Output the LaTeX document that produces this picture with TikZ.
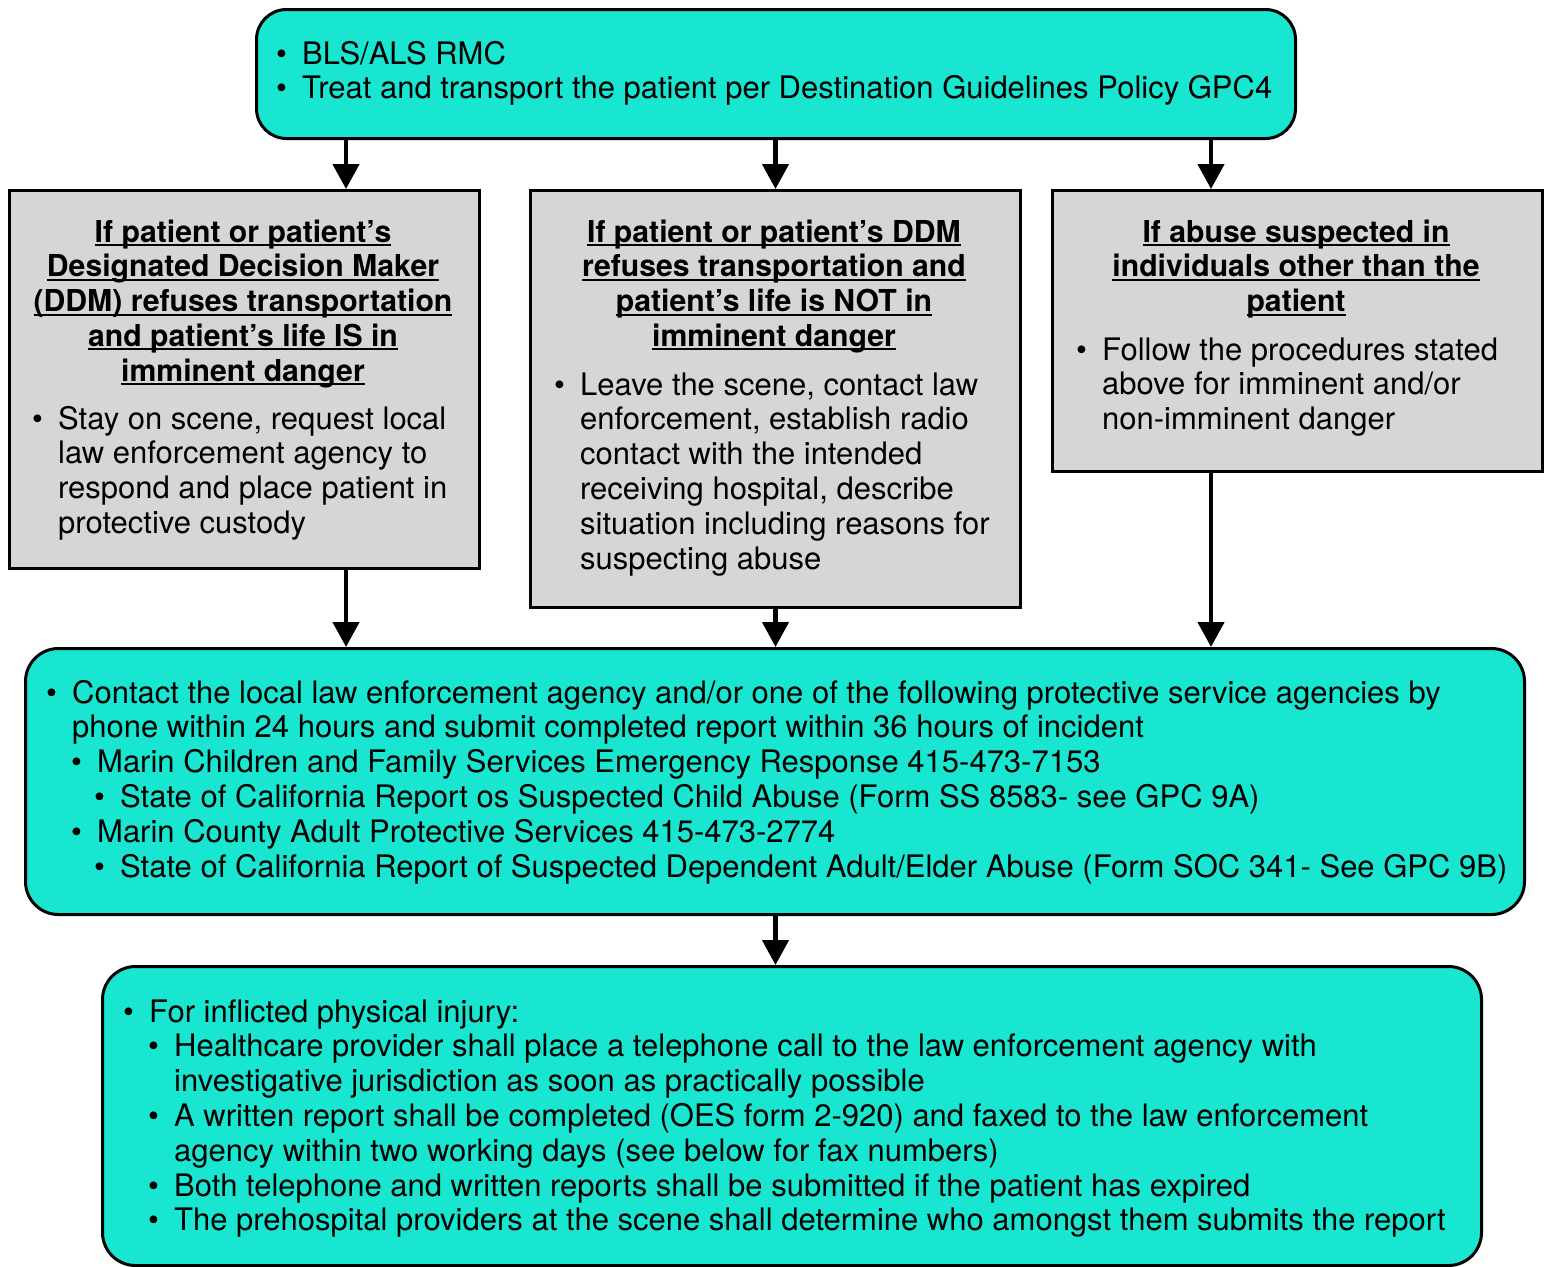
\documentclass[tikz,border=0pt]{standalone}
\usepackage{fontspec}
\setmainfont{TeX Gyre Heros}
\usetikzlibrary{arrows.meta}

\definecolor{tealfill}{RGB}{24,230,208}
\definecolor{greyfill}{RGB}{214,214,214}

% body and heading sizes, both with a 34.8pt line pitch
\newcommand\bodyfont{\fontsize{31}{34.8}\selectfont}
\newcommand\headfont{\fontsize{30.2}{34.8}\selectfont\bfseries}
% bullet with hanging indent, and the matching indent for continued lines
\newcommand\bpt{\makebox[26pt][l]{•}}
\newcommand\bind{\hspace*{26pt}}
% underline drawn just below the baseline
\newsavebox\ulbox
\newcommand\ulx[1]{\sbox\ulbox{#1}\rlap{\rule[-4pt]{\wd\ulbox}{2pt}}\usebox\ulbox}

\begin{document}
\begin{tikzpicture}[x=1pt,y=-1pt,
  tealbox/.style={draw=black, line width=3pt, fill=tealfill, rounded corners=30pt,
    anchor=north west, inner sep=0pt},
  greybox/.style={draw=black, line width=3pt, fill=greyfill,
    anchor=north west, inner sep=0pt},
  txt/.style={font=\bodyfont, inner sep=0pt, anchor=base west},
  head/.style={font=\headfont, inner sep=0pt, anchor=base},
  arr/.style={line width=4.5pt, -{Triangle[width=26pt,length=25pt]}}]

\useasboundingbox (0,0) rectangle (1546,1266);
\fill[white] (0,0) rectangle (1546,1266);

% boxes
\node[tealbox, minimum width=1039pt, minimum height=129pt] (top) at (255,8) {};
\node[greybox, minimum width=470pt, minimum height=378pt] (lbox) at (8,189) {};
\node[greybox, minimum width=490pt, minimum height=417pt] (mbox) at (529,189) {};
\node[greybox, minimum width=490pt, minimum height=281pt] (rbox) at (1051,189) {};
\node[tealbox, minimum width=1499pt, minimum height=266pt, rounded corners=33pt] (contact) at (24,647) {};
\node[tealbox, minimum width=1379pt, minimum height=299pt, rounded corners=33pt] (inj) at (101,965) {};

% arrow columns
\coordinate (colA) at (346,0);
\coordinate (colC) at (1211,0);

% connectors
\draw[arr] (top.south -| colA) -- (lbox.north -| colA);
\draw[arr] (top.south -| mbox.north) -- (mbox.north);
\draw[arr] (top.south -| colC) -- (rbox.north -| colC);
\draw[arr] (lbox.south -| colA) -- (contact.north -| colA);
\draw[arr] (mbox.south) -- (contact.north -| mbox.south);
\draw[arr] (rbox.south -| colC) -- (contact.north -| colC);
\draw[arr] (contact.south -| mbox.south) -- (inj.north -| mbox.south);

% top box text
\node[txt] (toptext) at (276,64) {\begin{tabular}[t]{@{}l@{}}
\bpt BLS/ALS RMC\\
\bpt Treat and transport the patient per Destination Guidelines Policy GPC4
\end{tabular}};

% left branch
\node[head] (lhead) at (243,242) {\begin{tabular}[t]{@{}c@{}}
\ulx{If patient or patient’s}\\
\ulx{Designated Decision Maker}\\
\ulx{(DDM) refuses transportation}\\
\ulx{and patient’s life IS in}\\
\ulx{imminent danger}
\end{tabular}};
\node[txt] (ltext) at (32,429) {\begin{tabular}[t]{@{}l@{}}
\bpt Stay on scene, request local\\
\bind law enforcement agency to\\
\bind respond and place patient in\\
\bind protective custody
\end{tabular}};

% middle branch
\node[head] (mhead) at (774,242) {\begin{tabular}[t]{@{}c@{}}
\ulx{If patient or patient’s DDM}\\
\ulx{refuses transportation and}\\
\ulx{patient’s life is NOT in}\\
\ulx{imminent danger}
\end{tabular}};
\node[txt] (mtext) at (554,395) {\begin{tabular}[t]{@{}l@{}}
\bpt Leave the scene, contact law\\
\bind enforcement, establish radio\\
\bind contact with the intended\\
\bind receiving hospital, describe\\
\bind situation including reasons for\\
\bind suspecting abuse
\end{tabular}};

% right branch
\node[head] (rhead) at (1296,242) {\begin{tabular}[t]{@{}c@{}}
\ulx{If abuse suspected in}\\
\ulx{individuals other than the}\\
\ulx{patient}
\end{tabular}};
\node[txt] (rtext) at (1076,360) {\begin{tabular}[t]{@{}l@{}}
\bpt Follow the procedures stated\\
\bind above for imminent and/or\\
\bind non-imminent danger
\end{tabular}};

% reporting box
\node[txt] (ctext) at (46,703) {\begin{tabular}[t]{@{}l@{}}
\bpt Contact the local law enforcement agency and/or one of the following protective service agencies by\\
\bind phone within 24 hours and submit completed report within 36 hours of incident\\
\hspace*{25pt}\bpt Marin Children and Family Services Emergency Response 415-473-7153\\
\hspace*{48pt}\bpt State of California Report os Suspected Child Abuse (Form SS 8583- see GPC 9A)\\
\hspace*{25pt}\bpt Marin County Adult Protective Services 415-473-2774\\
\hspace*{48pt}\bpt State of California Report of Suspected Dependent Adult/Elder Abuse (Form SOC 341- See GPC 9B)
\end{tabular}};

% physical injury box
\node[txt] (itext) at (123,1022) {\begin{tabular}[t]{@{}l@{}}
\bpt For inflicted physical injury:\\
\hspace*{25pt}\bpt Healthcare provider shall place a telephone call to the law enforcement agency with\\
\hspace*{51pt}investigative jurisdiction as soon as practically possible\\
\hspace*{25pt}\bpt A written report shall be completed (OES form 2-920) and faxed to the law enforcement\\
\hspace*{51pt}agency within two working days (see below for fax numbers)\\
\hspace*{25pt}\bpt Both telephone and written reports shall be submitted if the patient has expired\\
\hspace*{25pt}\bpt The prehospital providers at the scene shall determine who amongst them submits the report
\end{tabular}};
\end{tikzpicture}
\end{document}
